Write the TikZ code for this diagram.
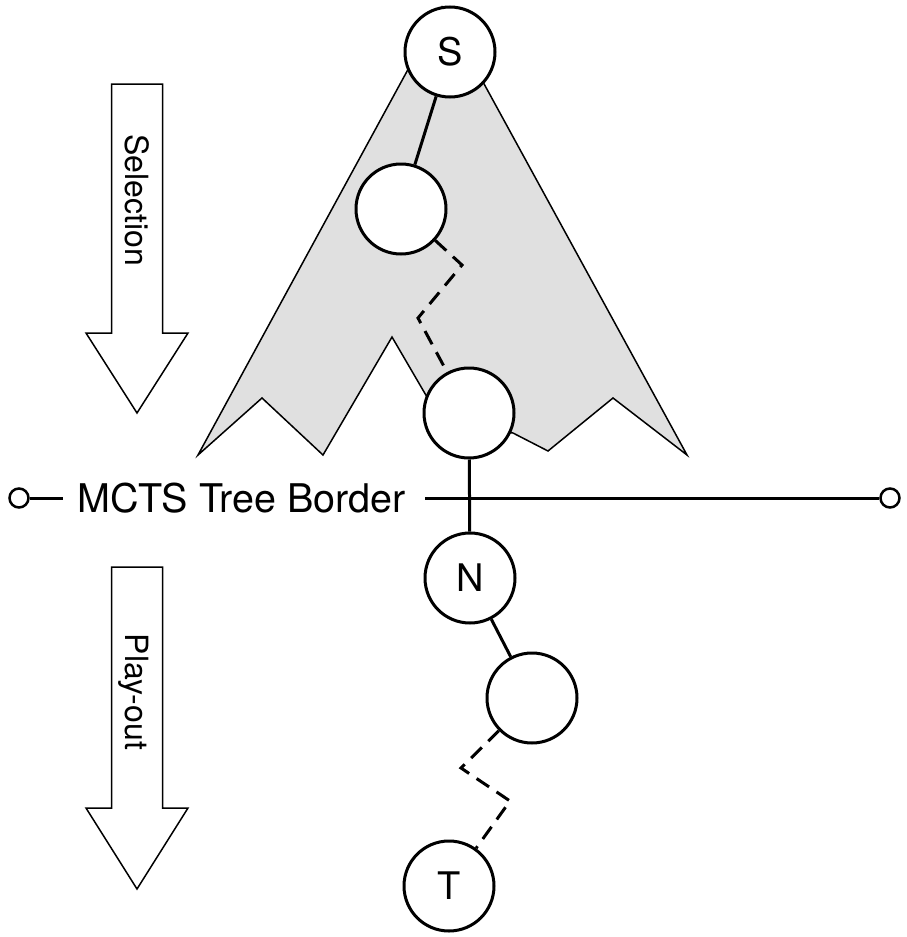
\documentclass[tikz,border=0pt]{standalone}
\usepackage{fontspec}
\setmainfont{TeX Gyre Heros}
\definecolor{treegray}{HTML}{E0E0E0}
\begin{document}
\begin{tikzpicture}[x=1pt,y=-1pt,
  treenode/.style={circle, draw, line width=3pt, fill=white, minimum size=90pt, inner sep=0pt, font=\fontsize{38}{40}\selectfont},
  edgeline/.style={line width=3pt},
  dashline/.style={line width=3pt, dash pattern=on 15pt off 9pt},
  endcirc/.style={circle, draw, line width=2.5pt, fill=white, minimum size=19pt, inner sep=0pt},
  bigarrow/.style={draw, line width=1.5pt, fill=white, line join=miter},
  arrowtext/.style={rotate=-90, anchor=base, inner sep=0pt, font=\fontsize{32}{34}\selectfont},
  borderline/.style={line width=3pt},
]
\useasboundingbox (0,0) rectangle (907,937);
\fill[white] (0,0) rectangle (907,937);

% gray tree region
\draw[line width=1.5pt, fill=treegray, line join=miter]
  (442,7) -- (687,455) -- (613,398) -- (548,451) -- (513,433) -- (469,430)
  -- (427,397) -- (392,337) -- (323,455) -- (262,398) -- (198,455) -- cycle;

% phase arrows
\draw[bigarrow] (111.5,84) -- (162.5,84) -- (162.5,333) -- (188,333) -- (137,413)
  -- (86,333) -- (111.5,333) -- cycle;
\node[arrowtext] (sel) at (125,200) {Selection};
\draw[bigarrow] (111.5,567) -- (162.5,567) -- (162.5,808) -- (188,808) -- (137,889)
  -- (86,808) -- (111.5,808) -- cycle;
\node[arrowtext] (play) at (125,692) {Play-out};

% border line
\node[endcirc] (L) at (19,498) {};
\node[endcirc] (R) at (890,498) {};
\coordinate (l1) at (63,498);
\coordinate (r1) at (425,498);
\draw[borderline] (L) -- (l1);
\draw[borderline] (r1) -- (R);
\node[anchor=base west, inner sep=0pt, font=\fontsize{39.5}{42}\selectfont] (border) at (77,512) {MCTS Tree Border};

% tree nodes
\node[treenode] (S) at (450,52) {S};
\node[treenode] (A) at (401,209) {};
\node[treenode] (B) at (469,413) {};
\node[treenode] (N) at (470,578) {N};
\node[treenode] (C) at (532,698) {};
\node[treenode] (T) at (449,886) {T};

% connectors
\coordinate (z1) at (462,265);
\coordinate (z2) at (418,318);
\coordinate (z3) at (461,768);
\coordinate (z4) at (510,801);
\draw[edgeline] (S) -- (A);
\draw[dashline] (A) -- (z1) -- (z2) -- (B);
\draw[edgeline] (B) -- (N);
\draw[edgeline] (N) -- (C);
\draw[dashline] (C) -- (z3) -- (z4) -- (T);
\end{tikzpicture}
\end{document}
